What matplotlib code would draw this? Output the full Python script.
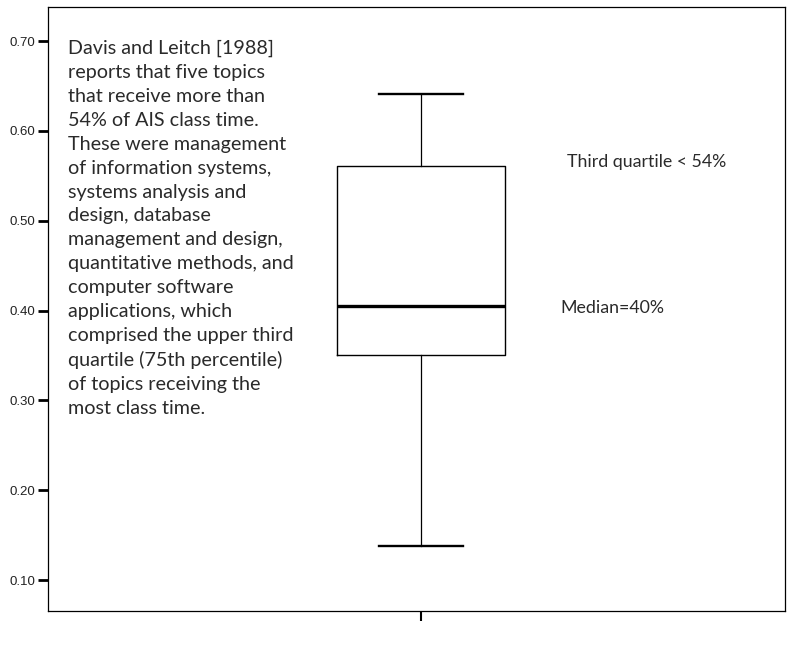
import matplotlib
matplotlib.use("Agg")
import matplotlib.pyplot as plt

# data
whisker_low = 0.138
q1 = 0.351
median = 0.405
q3 = 0.561
whisker_high = 0.641
yticks = [0.10, 0.20, 0.30, 0.40, 0.50, 0.60, 0.70]
ytick_labels = ["0.10", "0.20", "0.30", "0.40", "0.50", "0.60", "0.70"]

left_text = ("Davis and Leitch [1988]\nreports that five topics\nthat receive more than\n"
             "54% of AIS class time.\nThese were management\nof information systems,\n"
             "systems analysis and\ndesign, database\nmanagement and design,\n"
             "quantitative methods, and\ncomputer software\napplications, which\n"
             "comprised the upper third\nquartile (75th percentile)\nof topics receiving the\n"
             "most class time.")

fig = plt.figure(figsize=(7.87, 6.45), dpi=100)
ax = fig.add_axes([48/787, 1-611/645, 737/787, 604/645])

stats = [dict(whislo=whisker_low, q1=q1, med=median, q3=q3, whishi=whisker_high, fliers=[])]
bp = ax.bxp(stats, positions=[1], widths=0.228, showfliers=False,
            boxprops=dict(color="black", linewidth=1.0),
            whiskerprops=dict(color="black", linewidth=0.9),
            capprops=dict(color="black", linewidth=1.7),
            medianprops=dict(color="black", linewidth=2.4),
            capwidths=0.115)

ax.set_xlim(0.494, 1.494)
ax.set_ylim(0.0655, 0.738)
ax.set_yticks(yticks)
ax.set_yticklabels(ytick_labels, family="Liberation Sans", fontsize=9.5, color="#222222")
ax.set_xticks([1])
ax.set_xticklabels([""])
ax.tick_params(axis="y", direction="out", length=7, width=2, pad=2)
ax.tick_params(axis="x", direction="out", length=7, width=1.5)
for s in ax.spines.values():
    s.set_linewidth(0.9)

ax.text(68/787, 1-40/645, left_text, transform=fig.transFigure, family="Lato",
        fontsize=14.2, va="top", ha="left", linespacing=1.49, color="#2a2a2a")
ax.text(567/787, 1-162/645, "Third quartile < 54%", transform=fig.transFigure,
        family="Lato", fontsize=12.8, va="center", ha="left", color="#2a2a2a")
ax.text(560/787, 1-308/645, "Median=40%", transform=fig.transFigure,
        family="Lato", fontsize=12.8, va="center", ha="left", color="#2a2a2a")

fig.savefig("out.png", dpi=100)
